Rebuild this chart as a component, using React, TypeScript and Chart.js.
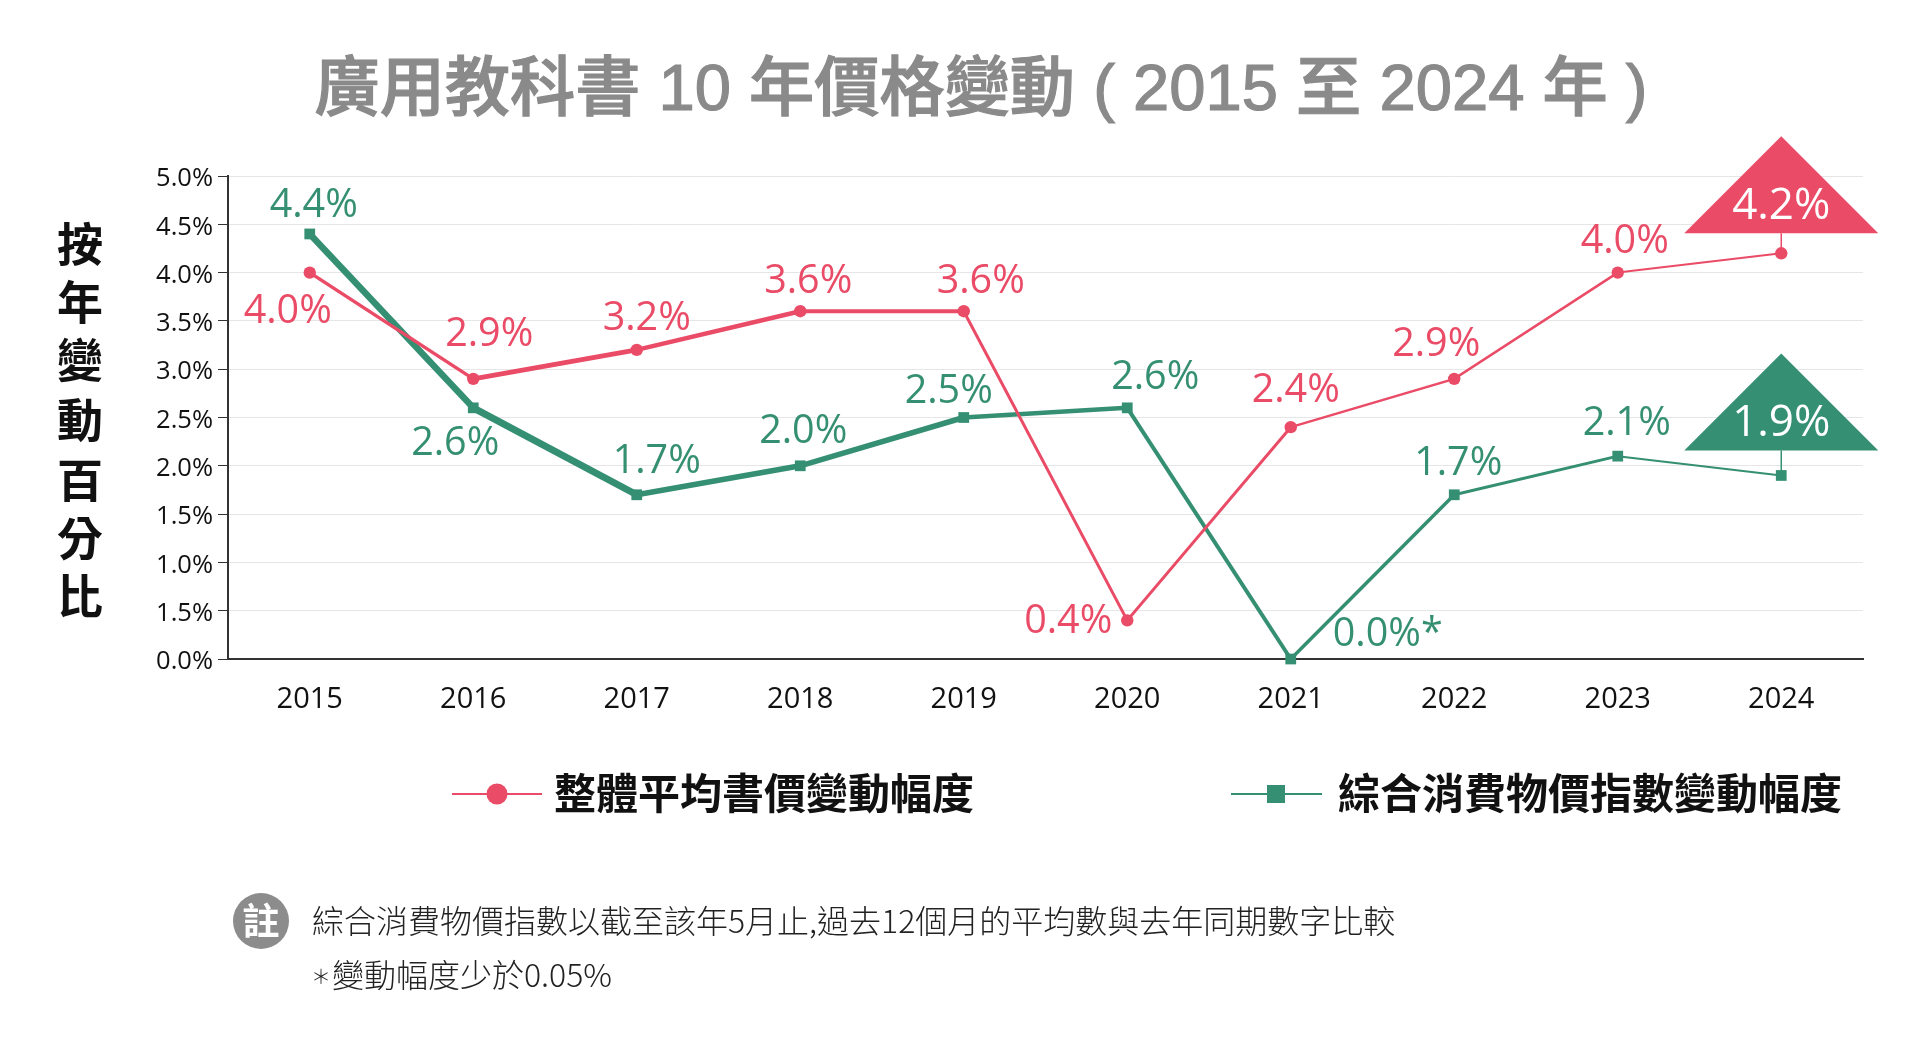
import React, { useEffect, useRef } from "react";
import { Chart, registerables } from "chart.js";

Chart.register(...registerables);

const years = ["2015", "2016", "2017", "2018", "2019", "2020", "2021", "2022", "2023", "2024"];
const bookPrices = [4.0, 2.9, 3.2, 3.6, 3.6, 0.4, 2.4, 2.9, 4.0, 4.2];
const cpi = [4.4, 2.6, 1.7, 2.0, 2.5, 2.6, 0.0, 1.7, 2.1, 1.9];
const yTickLabels = ["0.0%", "1.5%", "1.0%", "1.5%", "2.0%", "2.5%", "3.0%", "3.5%", "4.0%", "4.5%", "5.0%"];
const bookLabel = "整體平均書價變動幅度";
const cpiLabel = "綜合消費物價指數變動幅度";
const titleText = "廣用教科書 10 年價格變動 ( 2015 至 2024 年 )";
const yTitleChars = ["按", "年", "變", "動", "百", "分", "比"];
const noteMark = "＊";
const noteLines = ["綜合消費物價指數以截至該年5月止,過去12個月的平均數與去年同期數字比較", "變動幅度少於0.05%"];

const PINK = "#EA4B66";
const GREEN = "#358F72";
const CJK = '"Noto Sans CJK TC"';
const LATIN = '"Open Sans"';

const bookWidths = [3.5, 5, 4.5, 4, 3, 3, 2.5, 2.5, 2];
const cpiWidths = [6.5, 7, 5.5, 5.5, 4.5, 4, 3.5, 3, 2];

const bookOffsets = [[-22, 39], [16, -44], [10, -31], [8, -29], [17, -29], [-59, 1], [5, -36], [-18, -34], [7, -31]];
const cpiOffsets = [[4, -28], [-18, 36], [20, -33], [3, -34], [-15, -26], [28, -30], [97, -24], [4, -31], [9, -32]];

const overlay = {
  id: "overlay",
  beforeDraw(chart: any) {
    // nudge the y tick labels down, so they sit on their ticks as in the reference
    const items = chart.scales.y.getLabelItems();
    if (!items._shifted) {
      items.forEach((it: any) => { it.options.translation[1] += 3; });
      items._shifted = true;
    }
  },
  afterDatasetsDraw(chart: any) {
    const ctx = chart.ctx;
    ctx.save();
    ctx.textBaseline = "middle";
    ctx.textAlign = "center";

    // value labels
    const drawLabels = (idx: number, vals: number[], offs: number[][], color: string) => {
      const pts = chart.getDatasetMeta(idx).data;
      ctx.fillStyle = color;
      ctx.font = `39.5px ${LATIN}`;
      offs.forEach((o, i) => {
        const star = vals[i] === 0 ? "*" : "";
        ctx.fillText(vals[i].toFixed(1) + "%" + star, pts[i].x + o[0], pts[i].y + o[1]);
      });
    };
    drawLabels(0, bookPrices, bookOffsets, PINK);
    drawLabels(1, cpi, cpiOffsets, GREEN);

    // call-out triangles on the last point of each series
    const callout = (idx: number, val: number, color: string, gap: number, textUp: number) => {
      const pt = chart.getDatasetMeta(idx).data[years.length - 1];
      const base = pt.y - gap;
      ctx.strokeStyle = color;
      ctx.lineWidth = 1.5;
      ctx.beginPath();
      ctx.moveTo(pt.x, base);
      ctx.lineTo(pt.x, pt.y);
      ctx.stroke();
      ctx.fillStyle = color;
      ctx.beginPath();
      ctx.moveTo(pt.x, base - 97);
      ctx.lineTo(pt.x + 97, base);
      ctx.lineTo(pt.x - 97, base);
      ctx.closePath();
      ctx.fill();
      ctx.fillStyle = "#fff";
      ctx.font = `44px ${LATIN}`;
      ctx.fillText(val.toFixed(1) + "%", pt.x, pt.y - textUp);
    };
    callout(0, bookPrices[9], PINK, 20, 47);
    callout(1, cpi[9], GREEN, 25, 52);

    // title
    ctx.fillStyle = "#8a8a8a";
    ctx.strokeStyle = "#8a8a8a";
    ctx.lineWidth = 1.2;
    ctx.font = `500 65.2px "Liberation Sans", ${CJK}`;
    ctx.fillText(titleText, 981, 92);
    ctx.strokeText(titleText, 981, 92);

    // y axis title
    ctx.fillStyle = "#111";
    ctx.font = `bold 46px ${CJK}`;
    const ys = [244, 302, 360, 420, 480, 538, 596];
    yTitleChars.forEach((c, i) => ctx.fillText(c, 80, ys[i]));

    // legend
    ctx.textAlign = "left";
    ctx.font = `bold 42px ${CJK}`;
    ctx.fillStyle = "#111";
    ctx.fillText(bookLabel, 554, 793);
    ctx.fillText(cpiLabel, 1338, 793);
    ctx.lineWidth = 2;
    ctx.strokeStyle = PINK;
    ctx.beginPath();
    ctx.moveTo(452, 794);
    ctx.lineTo(542, 794);
    ctx.stroke();
    ctx.fillStyle = PINK;
    ctx.beginPath();
    ctx.arc(497, 794, 10.5, 0, Math.PI * 2);
    ctx.fill();
    ctx.strokeStyle = GREEN;
    ctx.beginPath();
    ctx.moveTo(1231, 794);
    ctx.lineTo(1322, 794);
    ctx.stroke();
    ctx.fillStyle = GREEN;
    ctx.fillRect(1267, 785, 18, 18);

    // note
    ctx.fillStyle = "#8c8c8c";
    ctx.beginPath();
    ctx.arc(261, 921, 28, 0, Math.PI * 2);
    ctx.fill();
    ctx.fillStyle = "#fff";
    ctx.textAlign = "center";
    ctx.font = `bold 37px ${CJK}`;
    ctx.fillText("註", 261, 921);
    ctx.textAlign = "left";
    ctx.fillStyle = "#222";
    ctx.font = `300 32px ${CJK}`;
    ctx.fillText(noteLines[0], 312, 921);
    ctx.fillText(noteLines[1], 332, 975);
    ctx.font = `300 20px ${CJK}`;
    ctx.fillText(noteMark, 311, 976);
    ctx.restore();
  },
};

export default function App() {
  const ref = useRef<HTMLCanvasElement>(null);
  useEffect(() => {
    const chart = new Chart(ref.current as HTMLCanvasElement, {
      type: "line",
      data: {
        labels: years,
        datasets: [
          {
            label: bookLabel,
            data: bookPrices,
            borderColor: PINK,
            backgroundColor: PINK,
            pointBackgroundColor: PINK,
            pointBorderWidth: 0,
            pointRadius: 6.2,
            pointStyle: "circle",
            tension: 0,
            borderWidth: 2,
            clip: false,
            segment: { borderWidth: (c: any) => bookWidths[c.p0DataIndex] },
          },
          {
            label: cpiLabel,
            data: cpi,
            borderColor: GREEN,
            backgroundColor: GREEN,
            pointBackgroundColor: GREEN,
            pointBorderWidth: 0,
            pointRadius: 7.6,
            pointStyle: "rect",
            tension: 0,
            borderWidth: 2,
            clip: false,
            segment: { borderWidth: (c: any) => cpiWidths[c.p0DataIndex] },
          },
        ],
      },
      options: {
        animation: false,
        responsive: false,
        layout: { padding: { top: 176, right: 69, left: 0, bottom: 0 } },
        plugins: { legend: { display: false }, title: { display: false }, tooltip: { enabled: false } },
        scales: {
          x: {
            offset: true,
            afterFit: (s: any) => { s.height = 390; },
            grid: { display: false, offset: true },
            border: { color: "#333", width: 2 },
            ticks: { color: "#111", font: { family: "Open Sans", size: 29 }, padding: 15, maxRotation: 0 },
          },
          y: {
            min: 0,
            max: 5,
            afterFit: (s: any) => { s.width = 228; },
            grid: { color: "#e6e6e6", lineWidth: 1, tickLength: 10, tickColor: "#333" },
            border: { color: "#333", width: 2 },
            ticks: {
              stepSize: 0.5,
              color: "#111",
              padding: 5,
              font: { family: "Open Sans", size: 25.5 },
              callback: (_v: any, i: number) => yTickLabels[i],
            },
          },
        },
      },
      plugins: [overlay],
    } as any);
    return () => chart.destroy();
  }, []);
  return (
    <canvas
      ref={ref}
      width={1932}
      height={1049}
      style={{ position: "absolute", left: 0, top: 0, display: "block", background: "#fff" }}
    />
  );
}
